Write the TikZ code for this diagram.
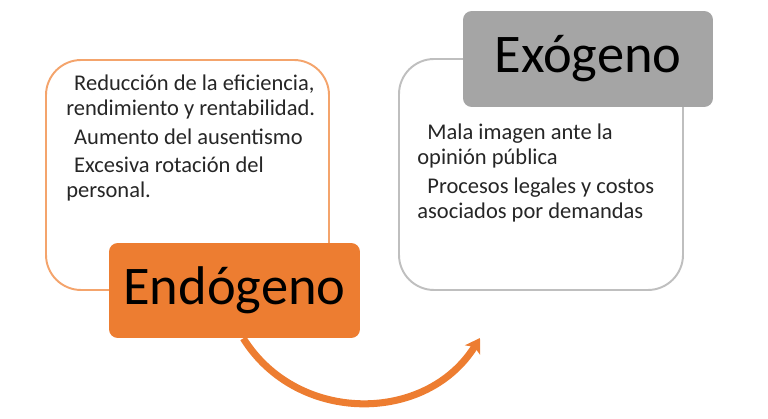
\documentclass[tikz,border=0pt]{standalone}
\usepackage{fontspec}
\setmainfont{Carlito}
\usetikzlibrary{arrows.meta}

\definecolor{naranja}{HTML}{ED7D31}
\definecolor{naranjaclaro}{HTML}{F4A46C}
\definecolor{gris}{HTML}{A5A5A5}
\definecolor{grisclaro}{HTML}{BFBFBF}

\begin{document}
\begin{tikzpicture}[x=0.02cm, y=0.02cm]
		\useasboundingbox (0,0) rectangle (768,419);

		\draw[rounded corners=20, draw=naranjaclaro, line width=1.1pt, fill=white] (46,129) rectangle (329,359);
		\draw[rounded corners=20, draw=grisclaro, line width=1.1pt, fill=white] (399,129) rectangle (683,360);

		\node[
			anchor=north west, align=left, inner sep=0pt, text=black!85,
			font=\fontsize{12.8}{14.2}\selectfont
		] (T1) at (66,344) {\hspace*{0.35em}Reducción de la eficiencia,\\
			rendimiento y rentabilidad.\\[2pt]
			\hspace*{0.35em}Aumento del ausentismo\\[2pt]
			\hspace*{0.35em}Excesiva rotación del\\
			personal.};
		\node[
			anchor=north west, align=left, inner sep=0pt, text=black!85,
			font=\fontsize{12.8}{14.2}\selectfont
		] (T2) at (417,295) {\hspace*{0.45em}Mala imagen ante la\\
			opinión pública\\[2pt]
			\hspace*{0.45em}Procesos legales y costos\\
			asociados por demandas};

		\node[
			rectangle, rounded corners=5, fill=naranja, draw=none,
			minimum width=5.02cm, minimum height=1.9cm,
			font=\fontsize{31}{37}\selectfont
		] (endo) at (234.5,128.5) {Endógeno};
		\node[
			rectangle, rounded corners=5, fill=gris, draw=none,
			minimum width=5cm, minimum height=1.92cm,
			font=\fontsize{31}{37}\selectfont
		] (exo) at (588,360) {Exógeno};

		\coordinate (punta) at (480,81);
		\draw[-{Stealth[length=8pt, width=10pt, inset=2pt]}, naranja, line width=4pt]
			([xshift=5]endo.south) to[out=-58, in=-122, looseness=1.1] (punta);
	\end{tikzpicture}
\end{document}
